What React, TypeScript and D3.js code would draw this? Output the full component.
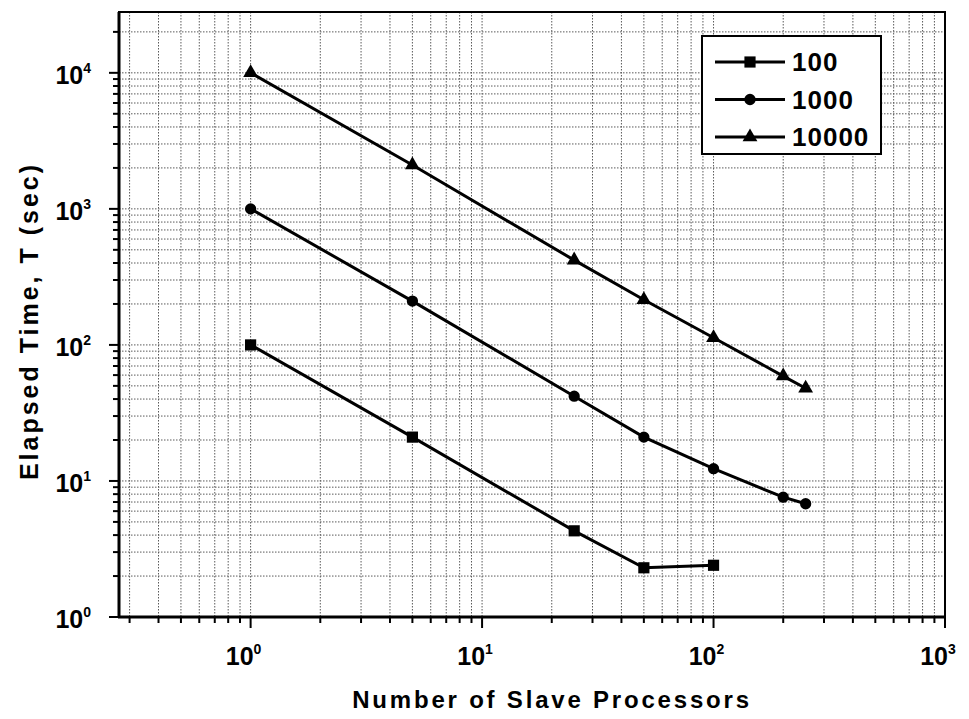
import * as d3 from "d3";
import { useEffect, useRef } from "react";

// processors on x, elapsed time (sec) on y
const processors = [1, 5, 25, 50, 100, 200, 250];
const series100 = [100, 21, 4.3, 2.3, 2.4];
const series1000 = [1000, 210, 42, 21, 12.3, 7.6, 6.8];
const series10000 = [10000, 2100, 420, 215, 113, 59, 48];
const seriesNames = ["100", "1000", "10000"];
const seriesMarkers = ["square", "circle", "triangle"];
const xTickExps = [0, 1, 2, 3];
const yTickExps = [0, 1, 2, 3, 4];

const W = 969;
const H = 719;
const margin = { top: 12, right: 24, bottom: 102, left: 119 };
const FONT = "'Liberation Sans', Arial, sans-serif";

export default function App() {
  const svgRef = useRef<SVGSVGElement | null>(null);

  useEffect(() => {
    const svg = d3.select(svgRef.current);
    svg.selectAll("*").remove();

    const x = d3
      .scaleLog()
      .domain([0.27, 1000])
      .range([margin.left, W - margin.right]);
    const y = d3
      .scaleLog()
      .domain([1, 28000])
      .range([H - margin.bottom, margin.top]);

    const [x0, x1] = x.range();
    const [y0, y1] = y.range();

    // minor + major values for grid and ticks
    const xVals: number[] = [];
    for (let e = -1; e <= 2; e++)
      for (let m = 1; m <= 9; m++) {
        const v = m * Math.pow(10, e);
        if (v >= 0.27 && v <= 1000) xVals.push(v);
      }
    xVals.push(1000);
    const yVals: number[] = [];
    for (let e = 0; e <= 4; e++)
      for (let m = 1; m <= 9; m++) {
        const v = m * Math.pow(10, e);
        if (v <= 28000) yVals.push(v);
      }

    const grid = svg.append("g");
    grid
      .selectAll("line.vx")
      .data(xVals.filter((v) => v > 0.27 && v < 1000))
      .join("line")
      .attr("x1", (d) => x(d))
      .attr("x2", (d) => x(d))
      .attr("y1", y1)
      .attr("y2", y0)
      .attr("stroke", "#5a5a5a")
      .attr("stroke-width", 1)
      .attr("stroke-dasharray", "1.5,1.5");
    grid
      .selectAll("line.hy")
      .data(yVals.filter((v) => v > 1))
      .join("line")
      .attr("x1", x0)
      .attr("x2", x1)
      .attr("y1", (d) => y(d))
      .attr("y2", (d) => y(d))
      .attr("stroke", "#5a5a5a")
      .attr("stroke-width", 1)
      .attr("stroke-dasharray", "1.5,1.5");

    // frame
    svg
      .append("rect")
      .attr("x", x0)
      .attr("y", y1)
      .attr("width", x1 - x0)
      .attr("height", y0 - y1)
      .attr("fill", "none")
      .attr("stroke", "#000")
      .attr("stroke-width", 2);
    svg.append("line").attr("x1", x0).attr("x2", x0).attr("y1", y1).attr("y2", y0 + 1).attr("stroke", "#000").attr("stroke-width", 3);
    svg.append("line").attr("x1", x0 - 1).attr("x2", x1).attr("y1", y0).attr("y2", y0).attr("stroke", "#000").attr("stroke-width", 3);

    const isMajor = (v: number) => Math.abs(Math.log10(v) - Math.round(Math.log10(v))) < 1e-9;

    // ticks
    svg
      .append("g")
      .selectAll("line")
      .data(xVals)
      .join("line")
      .attr("x1", (d) => x(d))
      .attr("x2", (d) => x(d))
      .attr("y1", y0)
      .attr("y2", (d) => y0 + (isMajor(d) ? 11 : 6))
      .attr("stroke", "#000")
      .attr("stroke-width", 2);
    svg
      .append("g")
      .selectAll("line")
      .data(yVals)
      .join("line")
      .attr("y1", (d) => y(d))
      .attr("y2", (d) => y(d))
      .attr("x1", x0)
      .attr("x2", (d) => x0 - (isMajor(d) ? 10 : 6))
      .attr("stroke", "#000")
      .attr("stroke-width", 2);

    // tick labels
    const xl = svg
      .append("g")
      .selectAll("text")
      .data(xTickExps)
      .join("text")
      .attr("x", (d) => x(Math.pow(10, d)) - 7)
      .attr("y", y0 + 48)
      .attr("text-anchor", "middle")
      .style("font-family", FONT)
      .style("font-weight", "bold")
      .style("font-size", "25px");
    xl.append("tspan").text("10");
    xl.append("tspan")
      .attr("dy", -11)
      .style("font-size", "14px")
      .text((d) => String(d));

    const yl = svg
      .append("g")
      .selectAll("text")
      .data(yTickExps)
      .join("text")
      .attr("x", x0 - 28)
      .attr("y", (d) => y(Math.pow(10, d)) + 11)
      .attr("text-anchor", "end")
      .style("font-family", FONT)
      .style("font-weight", "bold")
      .style("font-size", "25px");
    yl.append("tspan").text("10");
    yl.append("tspan")
      .attr("dy", -11)
      .style("font-size", "14px")
      .text((d) => String(d));

    // axis titles
    svg
      .append("text")
      .attr("x", 552)
      .attr("y", 708)
      .attr("text-anchor", "middle")
      .style("font-family", FONT)
      .style("font-weight", "bold")
      .style("font-size", "24px")
      .style("letter-spacing", "2.8px")
      .text("Number of Slave Processors");
    svg
      .append("text")
      .attr("transform", `translate(38,321) rotate(-90)`)
      .attr("text-anchor", "middle")
      .style("font-family", FONT)
      .style("font-weight", "bold")
      .style("font-size", "25px")
      .style("letter-spacing", "3px")
      .text("Elapsed Time, T (sec)");

    // series
    const allSeries = [series100, series1000, series10000];
    const symbolFor = (m: string) =>
      m === "square"
        ? d3.symbol(d3.symbolSquare, 125)
        : m === "circle"
        ? d3.symbol(d3.symbolCircle, 100)
        : d3.symbol(d3.symbolTriangle, 95);

    const line = d3
      .line<[number, number]>()
      .x((d) => x(d[0]))
      .y((d) => y(d[1]));

    allSeries.forEach((vals, i) => {
      const pts: [number, number][] = vals.map((v, j) => [processors[j], v]);
      svg
        .append("path")
        .attr("d", line(pts))
        .attr("fill", "none")
        .attr("stroke", "#000")
        .attr("stroke-width", 3);
      svg
        .append("g")
        .selectAll("path")
        .data(pts)
        .join("path")
        .attr("transform", (d) => `translate(${x(d[0])},${y(d[1])})`)
        .attr("d", symbolFor(seriesMarkers[i])())
        .attr("fill", "#000");
    });

    // legend
    const lg = svg.append("g").attr("transform", "translate(702,36)");
    lg.append("rect")
      .attr("width", 179)
      .attr("height", 118)
      .attr("fill", "#fff")
      .attr("stroke", "#000")
      .attr("stroke-width", 2);
    seriesNames.forEach((name, i) => {
      const ry = 26 + i * 37.5;
      lg.append("line")
        .attr("x1", 13)
        .attr("x2", 83)
        .attr("y1", ry)
        .attr("y2", ry)
        .attr("stroke", "#000")
        .attr("stroke-width", 3);
      lg.append("path")
        .attr("transform", `translate(48,${ry})`)
        .attr("d", symbolFor(seriesMarkers[i])())
        .attr("fill", "#000");
      lg.append("text")
        .attr("x", 90)
        .attr("y", ry + 9)
        .style("font-family", FONT)
        .style("font-weight", "bold")
        .style("font-size", "26px")
        .style("letter-spacing", "1px")
        .text(name);
    });
  }, []);

  return (
    <svg
      ref={svgRef}
      width={W}
      height={H}
      style={{ position: "absolute", left: 0, top: 0, background: "#fff", display: "block" }}
    />
  );
}
